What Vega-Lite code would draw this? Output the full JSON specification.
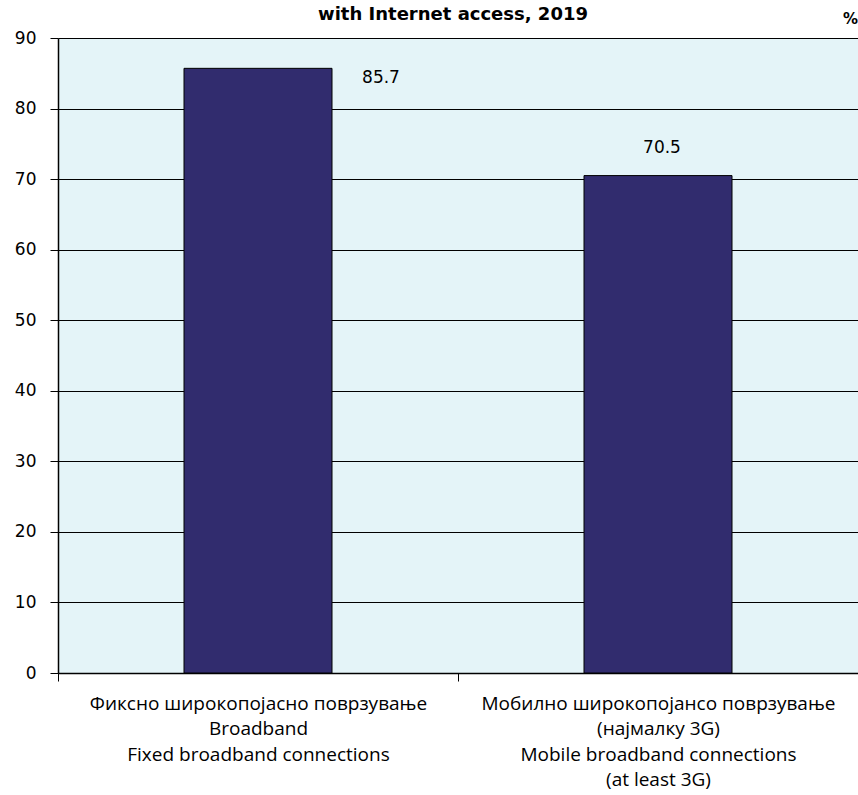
{
  "$schema": "https://vega.github.io/schema/vega-lite/v6.json",
  "autosize": "none",
  "padding": {"left": 58, "top": 38, "right": 0, "bottom": 122},
  "width": 800,
  "height": 635,
  "title": {
    "text": "with Internet access,  2019",
    "font": "DejaVu Sans",
    "fontSize": 18,
    "fontWeight": "bold",
    "color": "black",
    "anchor": "middle",
    "offset": 17,
    "dx": -5,
    "dy": 30
  },
  "data": {
    "values": [
      {"category": "Фиксно широкопојасно поврзување|Broadband|Fixed broadband connections", "value": 85.7},
      {"category": "Мобилно широкопојансо поврзување|(најмалку 3G)|Mobile broadband connections|(at least 3G)", "value": 70.5}
    ]
  },
  "encoding": {
    "x": {
      "field": "category",
      "type": "nominal",
      "sort": null,
      "scale": {"paddingInner": 0, "paddingOuter": 0},
      "axis": {
        "title": null,
        "tickBand": "extent",
        "labelAngle": 0,
        "labelExpr": "split(datum.label, '|')",
        "labelFont": "Open Sans",
        "labelFontSize": 19,
        "labelLineHeight": 25.5,
        "labelPadding": 13,
        "labelColor": "black",
        "labelLimit": 400,
        "tickSize": 8,
        "tickColor": "black",
        "domainColor": "black",
        "domainWidth": 1.5,
        "grid": false
      }
    }
  },
  "layer": [
    {
      "mark": {"type": "bar", "width": {"band": 0.37}, "color": "#312C6E", "stroke": "black", "strokeWidth": 1},
      "encoding": {
        "y": {
          "field": "value",
          "type": "quantitative",
          "scale": {"domain": [0, 90]},
          "axis": {
            "title": null,
            "values": [0, 10, 20, 30, 40, 50, 60, 70, 80, 90],
            "grid": true,
            "gridColor": "black",
            "gridOpacity": 1,
            "gridWidth": 1,
            "tickSize": 8,
            "tickColor": "black",
            "domainColor": "black",
            "domainWidth": 1.5,
            "labelFont": "DejaVu Sans",
            "labelFontSize": 17,
            "labelColor": "black",
            "labelPadding": 14
          }
        }
      }
    },
    {
      "transform": [{"filter": "datum.value > 80"}],
      "mark": {"type": "text", "dx": 123, "dy": 10, "font": "DejaVu Sans", "fontSize": 17, "color": "black"},
      "encoding": {
        "y": {"field": "value", "type": "quantitative", "axis": null},
        "text": {"field": "value", "type": "quantitative", "format": ".1f"}
      }
    },
    {
      "transform": [{"filter": "datum.value < 80"}],
      "mark": {"type": "text", "dx": 4, "dy": -28, "font": "DejaVu Sans", "fontSize": 17, "color": "black"},
      "encoding": {
        "y": {"field": "value", "type": "quantitative", "axis": null},
        "text": {"field": "value", "type": "quantitative", "format": ".1f"}
      }
    },
    {
      "mark": {"type": "rule", "opacity": 0},
      "encoding": {
        "x": {"value": 0},
        "y": {
          "datum": 0,
          "type": "quantitative",
          "axis": {
            "orient": "right",
            "labels": false,
            "ticks": false,
            "domain": false,
            "grid": false,
            "title": "%",
            "titleAngle": 0,
            "titleX": -8,
            "titleY": -20,
            "titleAlign": "center",
            "titleBaseline": "middle",
            "titleFont": "DejaVu Sans",
            "titleFontSize": 15,
            "titleFontWeight": "bold",
            "titleColor": "black"
          }
        }
      }
    }
  ],
  "resolve": {"axis": {"y": "independent"}},
  "config": {"view": {"fill": "#E4F4F8", "stroke": null}}
}
